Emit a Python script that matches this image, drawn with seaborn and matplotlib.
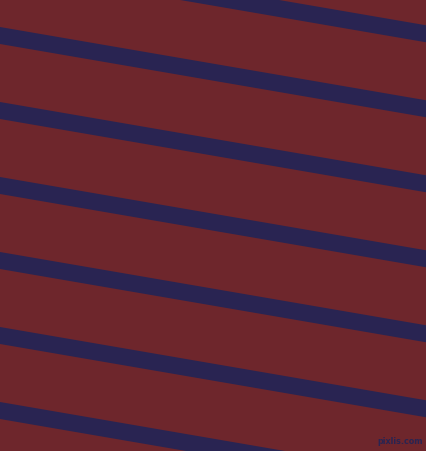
import matplotlib
matplotlib.use("Agg")
import matplotlib.pyplot as plt
import numpy as np
import seaborn as sns

# stripe top edges at the left border (pixels), all running down to the right
stripe_tops = [-48, 27, 102, 177, 252, 327, 402]
stripe_height = 17
stripe_slope = 0.172
x_edges = [0, 426]

bg_color = "#6e262c"
stripe_color = "#292452"
watermark = "pixlis.com"

sns.set_theme(style="white")

fig = plt.figure(figsize=(4.26, 4.51), dpi=100)
ax = fig.add_axes([0, 0, 1, 1])
ax.set_facecolor(bg_color)

xs = np.array(x_edges, dtype=float)
for top in stripe_tops:
    upper = top + stripe_slope * xs
    ax.fill_between(xs, upper, upper + stripe_height, color=stripe_color, linewidth=0)

ax.text(423, 442, watermark, color=stripe_color, fontsize=5.8,
        ha="right", va="center", fontweight="bold")

ax.set_xlim(0, 426)
ax.set_ylim(451, 0)
ax.axis("off")
fig.patch.set_facecolor(bg_color)

fig.savefig("out.png", dpi=100, facecolor=bg_color)
